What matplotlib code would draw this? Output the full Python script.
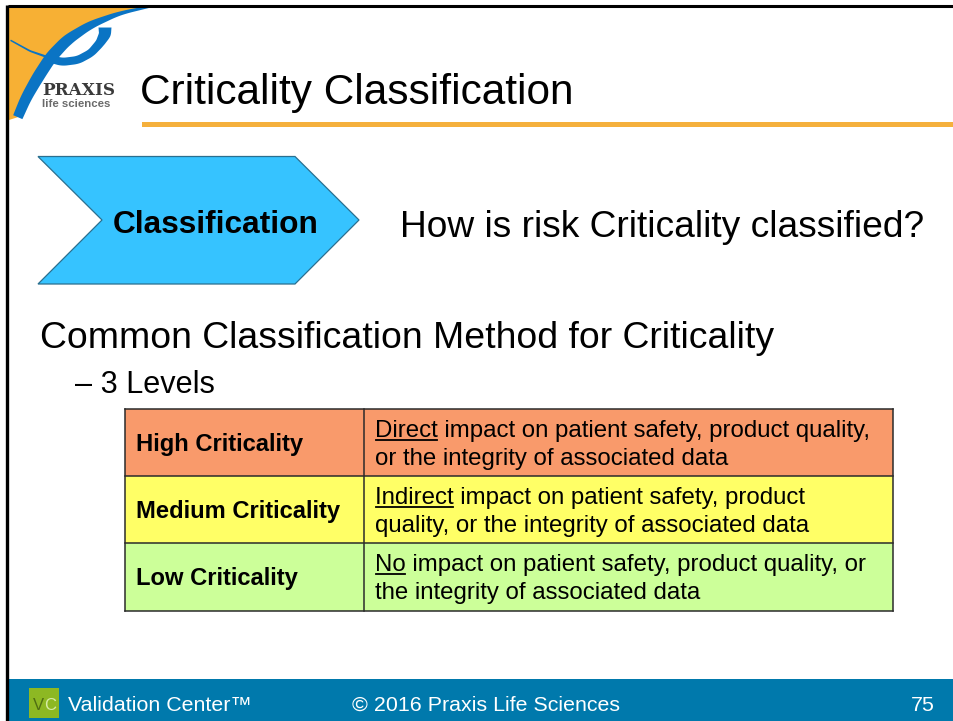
import matplotlib
matplotlib.use("Agg")
import matplotlib.pyplot as plt
from matplotlib.patches import Polygon, Rectangle
import numpy as np

W, H, DPI = 954, 721, 100
FONT = "Liberation Sans"

# ---- content ----
title = "Criticality Classification"
chevron_label = "Classification"
question = "How is risk Criticality classified?"
heading = "Common Classification Method for Criticality"
subheading = "\u2013 3 Levels"
levels = ["High Criticality", "Medium Criticality", "Low Criticality"]
keywords = ["Direct", "Indirect", "No"]
desc_rest1 = [" impact on patient safety, product quality,",
              " impact on patient safety, product",
              " impact on patient safety, product quality, or"]
desc_line2 = ["or the integrity of associated data",
              "quality, or the integrity of associated data",
              "the integrity of associated data"]
level_colors = ["#F99A6B", "#FFFF66", "#CCFF99"]
footer_left = "Validation Center\u2122"
footer_mid = "\u00a9 2016 Praxis Life Sciences"
page_number = "75"
logo_name = "PRAXIS"
logo_sub = "life sciences"

fig = plt.figure(figsize=(W / DPI, H / DPI), dpi=DPI)
ax = fig.add_axes([0, 0, 1, 1])
ax.set_xlim(0, W)
ax.set_ylim(H, 0)
ax.axis("off")
renderer = fig.canvas.get_renderer()


def text_width(s, size, weight="normal", family=FONT):
    t = ax.text(0, 0, s, fontsize=size, fontweight=weight, family=family)
    w = t.get_window_extent(renderer).width
    t.remove()
    return w


def fit(s, target, weight="normal", family=FONT):
    return 20.0 * target / text_width(s, 20.0, weight, family)


# ---- frame ----
ax.plot([8, W], [5.5, 5.5], color="black", lw=2.2, solid_capstyle="butt", zorder=5)
ax.plot([7.5, 7.5], [5, H], color="black", lw=2.4, solid_capstyle="butt", zorder=5)


# ---- logo ----
def centerline(points, n=90):
    pts = np.array(points, float)
    t = np.linspace(0, 1, len(pts))
    tt = np.linspace(0, 1, n)
    cx = np.interp(tt, t, pts[:, 0])
    cy = np.interp(tt, t, pts[:, 1])
    k = np.ones(9) / 9
    cx = np.convolve(np.pad(cx, 4, mode="edge"), k, mode="valid")
    cy = np.convolve(np.pad(cy, 4, mode="edge"), k, mode="valid")
    return cx, cy, tt


def stroke(points, widths, color, z=3):
    cx, cy, tt = centerline(points)
    wd = np.interp(tt, np.linspace(0, 1, len(widths)), widths)
    dx = np.gradient(cx)
    dy = np.gradient(cy)
    n = np.hypot(dx, dy)
    nx, ny = -dy / n, dx / n
    left = np.column_stack([cx + nx * wd / 2, cy + ny * wd / 2])
    right = np.column_stack([cx - nx * wd / 2, cy - ny * wd / 2])
    poly = np.vstack([left, right[::-1]])
    ax.add_patch(Polygon(poly, closed=True, facecolor=color, edgecolor="none", zorder=z))


main_pts = [(158, 5), (120, 13), (90, 25), (67, 40), (51, 57), (38, 77), (26, 98), (17, 119)]
main_w = [1.5, 4, 8, 11, 12, 12, 11, 10]
cx, cy, _ = centerline(main_pts)
orange_poly = np.vstack([[[9, 6.5]], np.column_stack([cx, cy]), [[9, 120]]])
ax.add_patch(Polygon(orange_poly, closed=True, facecolor="#F7B034", edgecolor="none", zorder=2))
blue = "#0A74C4"
stroke(main_pts, main_w, blue)
stroke([(48, 58), (62, 62), (78, 60), (91, 53), (100, 43), (105, 34), (105, 27)],
       [8, 8, 8, 8, 9, 12, 13], blue)
stroke([(10, 40), (30, 51), (50, 58)], [1.5, 1.8, 2.4], blue)

fs = fit(logo_name, 73, "bold", "DejaVu Serif")
ax.text(42, 95, logo_name, fontsize=fs, fontweight="bold", family="DejaVu Serif",
        color="#3a3a3a", va="baseline", ha="left", zorder=6)
fs = fit(logo_sub, 68, "bold")
ax.text(42, 107, logo_sub, fontsize=fs, fontweight="bold", family=FONT,
        color="#6a6a6a", va="baseline", ha="left", zorder=6)

# ---- title ----
fs = fit(title, 433)
ax.text(140, 104, title, fontsize=fs, family=FONT, color="black", va="baseline", ha="left")
ax.add_patch(Rectangle((142, 122), W - 142, 5, facecolor="#F5B03C", edgecolor="none"))

# ---- chevron ----
chev = [(38, 156.5), (295, 156.5), (359, 220), (295, 284), (38, 284), (102, 220)]
ax.add_patch(Polygon(chev, closed=True, facecolor="#36C3FF", edgecolor="#2A6F8F", lw=0.9, zorder=3))
fs = fit(chevron_label, 205, "bold")
ax.text(113, 233, chevron_label, fontsize=fs, fontweight="bold", family=FONT,
        color="black", va="baseline", ha="left", zorder=4)

fs = fit(question, 525)
ax.text(400, 237, question, fontsize=fs, family=FONT, color="black", va="baseline", ha="left")

# ---- heading ----
fs = fit(heading, 732)
ax.text(40, 348, heading, fontsize=fs, family=FONT, color="black", va="baseline", ha="left")
ax.text(75, 393, subheading, fontsize=fs * 0.82, family=FONT, color="black", va="baseline", ha="left")

# ---- table ----
tx0, tx1, tcol = 125, 893, 364.5
row_edges = [409, 476, 543, 611]
for i, c in enumerate(level_colors):
    ax.add_patch(Rectangle((tx0, row_edges[i]), tx1 - tx0, row_edges[i + 1] - row_edges[i],
                           facecolor=c, edgecolor="none", zorder=2))
lc = "#2b2b2b"
for y in row_edges:
    ax.plot([tx0, tx1], [y, y], color=lc, lw=1.1, zorder=3, solid_capstyle="projecting")
for x in [tx0, tcol, tx1]:
    ax.plot([x, x], [row_edges[0], row_edges[-1]], color=lc, lw=1.1, zorder=3, solid_capstyle="projecting")

fs_lab = fit(levels[1], 204, "bold")
full1 = [k + r for k, r in zip(keywords, desc_rest1)]
fs_desc = fit(full1[0], 493)
for i in range(3):
    top = row_edges[i]
    ax.text(136, top + 42, levels[i], fontsize=fs_lab, fontweight="bold", family=FONT,
            color="black", va="baseline", ha="left", zorder=4)
    ax.text(375, top + 28, full1[i], fontsize=fs_desc, family=FONT,
            color="black", va="baseline", ha="left", zorder=4)
    ax.text(375, top + 56, desc_line2[i], fontsize=fs_desc, family=FONT,
            color="black", va="baseline", ha="left", zorder=4)
    kw = text_width(keywords[i], fs_desc)
    ax.plot([376, 374 + kw], [top + 30.5, top + 30.5], color="black", lw=1.3, zorder=4)

# ---- footer ----
ax.add_patch(Rectangle((9, 679), W - 9, H - 679, facecolor="#0079AC", edgecolor="none", zorder=2))
ax.add_patch(Rectangle((29, 688), 30, 30, facecolor="#8DB823", edgecolor="none", zorder=3))
ax.text(33, 710, "V", fontsize=12, family=FONT, color="#4F6E12", va="baseline", ha="left", zorder=4)
ax.text(44.5, 710, "C", fontsize=12, family=FONT, color="#D7EBA6", va="baseline", ha="left", zorder=4)
fs_f = fit(footer_mid, 268)
ax.text(68, 711, footer_left, fontsize=fs_f, family=FONT, color="white", va="baseline", ha="left", zorder=4)
ax.text(352, 711, footer_mid, fontsize=fs_f, family=FONT, color="white", va="baseline", ha="left", zorder=4)
ax.text(935, 711, page_number, fontsize=fs_f, family=FONT, color="white", va="baseline", ha="right", zorder=4)

fig.savefig("out.png", dpi=DPI, facecolor="white")
